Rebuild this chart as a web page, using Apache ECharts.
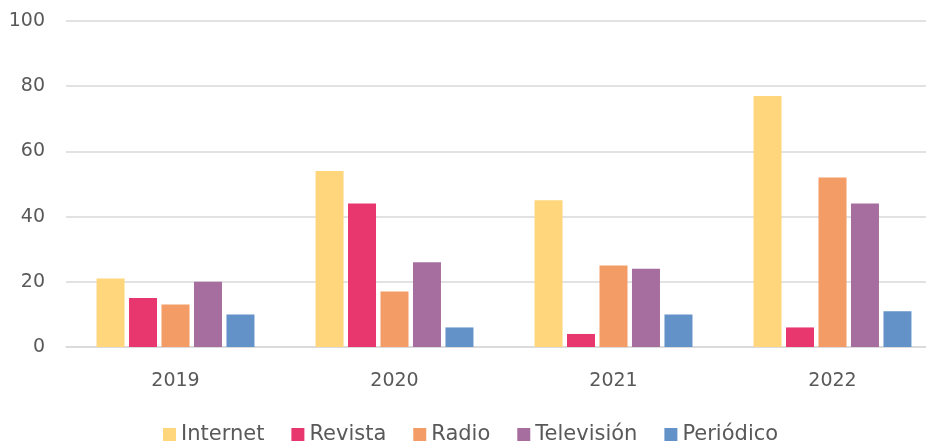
<!DOCTYPE html>
<html>
<head>
<meta charset="utf-8">
<script src="https://cdn.jsdelivr.net/npm/echarts@6/dist/echarts.min.js"></script>
<style>
  html, body { margin: 0; padding: 0; background: #fff; }
  #chart { width: 926px; height: 445px; }
</style>
</head>
<body>
<div id="chart"></div>
<script>
// Years on the category axis
const years = ['2019', '2020', '2021', '2022'];

// Share per media channel, per year
const internet = [21, 54, 45, 77];
const revista = [15, 44, 4, 6];
const radio = [13, 17, 25, 52];
const television = [20, 26, 24, 44];
const periodico = [10, 6, 10, 11];

const seriesNames = ['Internet', 'Revista', 'Radio', 'Televisión', 'Periódico'];
const seriesData = [internet, revista, radio, television, periodico];
const colors = ['#FFD67B', '#E8366F', '#F49C65', '#A66E9E', '#6292C7'];

const textColor = '#595959';
const fontFamily = '"DejaVu Sans", sans-serif';

const chart = echarts.init(document.getElementById('chart'));
chart.setOption({
  animation: false,
  color: colors,
  textStyle: { fontFamily: fontFamily },
  // the plot area runs a little past the right edge of the canvas
  grid: { left: 66, top: 21, width: 876, bottom: 98, outerBoundsMode: 'none', containLabel: false },
  legend: {
    top: 419,
    left: 158,
    itemWidth: 13,
    itemHeight: 13,
    itemGap: 27,
    icon: 'rect',
    textStyle: { color: textColor, fontSize: 21, fontFamily: fontFamily },
    data: seriesNames
  },
  xAxis: {
    type: 'category',
    data: years,
    axisTick: { show: false },
    axisLine: { show: true, lineStyle: { color: '#D9D9D9', width: 1.5 } },
    axisLabel: { color: textColor, fontSize: 19, margin: 25, fontFamily: fontFamily }
  },
  yAxis: {
    type: 'value',
    min: 0,
    max: 100,
    interval: 20,
    axisLine: { show: false },
    axisTick: { show: false },
    splitLine: { lineStyle: { color: '#D9D9D9', width: 1.5 } },
    axisLabel: { color: textColor, fontSize: 19, margin: 21, fontFamily: fontFamily }
  },
  series: seriesNames.map((name, i) => ({
    name: name,
    type: 'bar',
    data: seriesData[i],
    barWidth: 28,
    barGap: '16%'
  }))
});
</script>
</body>
</html>
